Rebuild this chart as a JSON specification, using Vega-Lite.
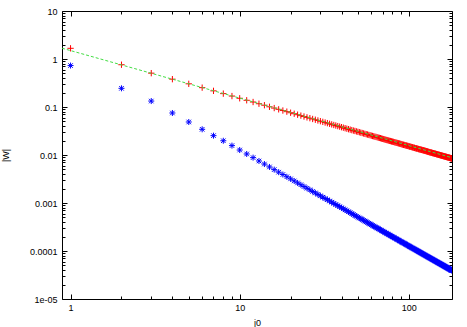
{
"$schema": "https://vega.github.io/schema/vega-lite/v6.json",
"width": 390, "height": 288,
"autosize": "none",
"padding": {"left": 62, "top": 11, "right": 15, "bottom": 28},
"background": "white",
"config": {
  "view": {"stroke": "black", "strokeWidth": 1},
  "axis": {"domain": false, "grid": false, "tickColor": "black", "tickWidth": 1, "labelFont": "Liberation Sans", "labelFontSize": 9, "labelColor": "black", "titleFont": "Liberation Sans", "titleFontSize": 9, "titleFontWeight": "normal", "titleColor": "black"}
},
"datasets": {
"fit": [{"j": 0.89, "w": 1.68}, {"j": 180, "w": 0.00877}],
"pts": [
{"j":1,"r":1.67,"b":0.73},{"j":2,"r":0.76,"b":0.245},{"j":3,"r":0.507,"b":0.133},{"j":4,"r":0.38,"b":0.075},{"j":5,"r":0.304,"b":0.0487},{"j":6,"r":0.253,"b":0.0343},{"j":7,"r":0.217,"b":0.0253},{"j":8,"r":0.19,"b":0.0198},{"j":9,"r":0.169,"b":0.0157},{"j":10,"r":0.152,"b":0.0127},
{"j":11,"r":0.138,"b":0.0105},{"j":12,"r":0.127,"b":0.00882},{"j":13,"r":0.117,"b":0.00751},{"j":14,"r":0.109,"b":0.00648},{"j":15,"r":0.101,"b":0.00564},{"j":16,"r":0.095,"b":0.00496},{"j":17,"r":0.0894,"b":0.00439},{"j":18,"r":0.0844,"b":0.00392},{"j":19,"r":0.08,"b":0.00352},{"j":20,"r":0.076,"b":0.00318},
{"j":21,"r":0.0724,"b":0.00288},{"j":22,"r":0.0691,"b":0.00262},{"j":23,"r":0.0661,"b":0.0024},{"j":24,"r":0.0633,"b":0.0022},{"j":25,"r":0.0608,"b":0.00203},{"j":26,"r":0.0585,"b":0.00188},{"j":27,"r":0.0563,"b":0.00174},{"j":28,"r":0.0543,"b":0.00162},{"j":29,"r":0.0524,"b":0.00151},{"j":30,"r":0.0507,"b":0.00141},
{"j":31,"r":0.049,"b":0.00132},{"j":32,"r":0.0475,"b":0.00124},{"j":33,"r":0.0461,"b":0.00117},{"j":34,"r":0.0447,"b":0.0011},{"j":35,"r":0.0434,"b":0.00104},{"j":36,"r":0.0422,"b":0.00098},{"j":37,"r":0.0411,"b":0.000928},{"j":38,"r":0.04,"b":0.00088},{"j":39,"r":0.039,"b":0.000835},{"j":40,"r":0.038,"b":0.000794},
{"j":41,"r":0.0371,"b":0.000755},{"j":42,"r":0.0362,"b":0.00072},{"j":43,"r":0.0353,"b":0.000687},{"j":44,"r":0.0345,"b":0.000656},{"j":45,"r":0.0338,"b":0.000627},{"j":46,"r":0.033,"b":0.0006},{"j":47,"r":0.0323,"b":0.000575},{"j":48,"r":0.0317,"b":0.000551},{"j":49,"r":0.031,"b":0.000529},{"j":50,"r":0.0304,"b":0.000508},
{"j":51,"r":0.0298,"b":0.000488},{"j":52,"r":0.0292,"b":0.00047},{"j":53,"r":0.0287,"b":0.000452},{"j":54,"r":0.0281,"b":0.000436},{"j":55,"r":0.0276,"b":0.00042},{"j":56,"r":0.0271,"b":0.000405},{"j":57,"r":0.0267,"b":0.000391},{"j":58,"r":0.0262,"b":0.000378},{"j":59,"r":0.0258,"b":0.000365},{"j":60,"r":0.0253,"b":0.000353},
{"j":61,"r":0.0249,"b":0.000341},{"j":62,"r":0.0245,"b":0.00033},{"j":63,"r":0.0241,"b":0.00032},{"j":64,"r":0.0238,"b":0.00031},{"j":65,"r":0.0234,"b":0.000301},{"j":66,"r":0.023,"b":0.000292},{"j":67,"r":0.0227,"b":0.000283},{"j":68,"r":0.0224,"b":0.000275},{"j":69,"r":0.022,"b":0.000267},{"j":70,"r":0.0217,"b":0.000259},
{"j":71,"r":0.0214,"b":0.000252},{"j":72,"r":0.0211,"b":0.000245},{"j":73,"r":0.0208,"b":0.000238},{"j":74,"r":0.0205,"b":0.000232},{"j":75,"r":0.0203,"b":0.000226},{"j":76,"r":0.02,"b":0.00022},{"j":77,"r":0.0197,"b":0.000214},{"j":78,"r":0.0195,"b":0.000209},{"j":79,"r":0.0192,"b":0.000203},{"j":80,"r":0.019,"b":0.000198},
{"j":81,"r":0.0188,"b":0.000194},{"j":82,"r":0.0185,"b":0.000189},{"j":83,"r":0.0183,"b":0.000184},{"j":84,"r":0.0181,"b":0.00018},{"j":85,"r":0.0179,"b":0.000176},{"j":86,"r":0.0177,"b":0.000172},{"j":87,"r":0.0175,"b":0.000168},{"j":88,"r":0.0173,"b":0.000164},{"j":89,"r":0.0171,"b":0.00016},{"j":90,"r":0.0169,"b":0.000157},
{"j":91,"r":0.0167,"b":0.000153},{"j":92,"r":0.0165,"b":0.00015},{"j":93,"r":0.0163,"b":0.000147},{"j":94,"r":0.0162,"b":0.000144},{"j":95,"r":0.016,"b":0.000141},{"j":96,"r":0.0158,"b":0.000138},{"j":97,"r":0.0157,"b":0.000135},{"j":98,"r":0.0155,"b":0.000132},{"j":99,"r":0.0154,"b":0.00013},{"j":100,"r":0.0152,"b":0.000127},
{"j":101,"r":0.015,"b":0.000124},{"j":102,"r":0.0149,"b":0.000122},{"j":103,"r":0.0148,"b":0.00012},{"j":104,"r":0.0146,"b":0.000117},{"j":105,"r":0.0145,"b":0.000115},{"j":106,"r":0.0143,"b":0.000113},{"j":107,"r":0.0142,"b":0.000111},{"j":108,"r":0.0141,"b":0.000109},{"j":109,"r":0.0139,"b":0.000107},{"j":110,"r":0.0138,"b":0.000105},
{"j":111,"r":0.0137,"b":0.000103},{"j":112,"r":0.0136,"b":0.000101},{"j":113,"r":0.0135,"b":0.0000995},{"j":114,"r":0.0133,"b":0.0000977},{"j":115,"r":0.0132,"b":0.000096},{"j":116,"r":0.0131,"b":0.0000944},{"j":117,"r":0.013,"b":0.0000928},{"j":118,"r":0.0129,"b":0.0000912},{"j":119,"r":0.0128,"b":0.0000897},{"j":120,"r":0.0127,"b":0.0000882},
{"j":121,"r":0.0126,"b":0.0000867},{"j":122,"r":0.0125,"b":0.0000853},{"j":123,"r":0.0124,"b":0.0000839},{"j":124,"r":0.0123,"b":0.0000826},{"j":125,"r":0.0122,"b":0.0000813},{"j":126,"r":0.0121,"b":0.00008},{"j":127,"r":0.012,"b":0.0000787},{"j":128,"r":0.0119,"b":0.0000775},{"j":129,"r":0.0118,"b":0.0000763},{"j":130,"r":0.0117,"b":0.0000751},
{"j":131,"r":0.0116,"b":0.000074},{"j":132,"r":0.0115,"b":0.0000729},{"j":133,"r":0.0114,"b":0.0000718},{"j":134,"r":0.0113,"b":0.0000707},{"j":135,"r":0.0113,"b":0.0000697},{"j":136,"r":0.0112,"b":0.0000687},{"j":137,"r":0.0111,"b":0.0000677},{"j":138,"r":0.011,"b":0.0000667},{"j":139,"r":0.0109,"b":0.0000657},{"j":140,"r":0.0109,"b":0.0000648},
{"j":141,"r":0.0108,"b":0.0000639},{"j":142,"r":0.0107,"b":0.000063},{"j":143,"r":0.0106,"b":0.0000621},{"j":144,"r":0.0106,"b":0.0000612},{"j":145,"r":0.0105,"b":0.0000604},{"j":146,"r":0.0104,"b":0.0000596},{"j":147,"r":0.0103,"b":0.0000588},{"j":148,"r":0.0103,"b":0.000058},{"j":149,"r":0.0102,"b":0.0000572},{"j":150,"r":0.0101,"b":0.0000564},
{"j":151,"r":0.0101,"b":0.0000557},{"j":152,"r":0.01,"b":0.000055},{"j":153,"r":0.00993,"b":0.0000543},{"j":154,"r":0.00987,"b":0.0000536},{"j":155,"r":0.00981,"b":0.0000529},{"j":156,"r":0.00974,"b":0.0000522},{"j":157,"r":0.00968,"b":0.0000515},{"j":158,"r":0.00962,"b":0.0000509},{"j":159,"r":0.00956,"b":0.0000502},{"j":160,"r":0.0095,"b":0.0000496},
{"j":161,"r":0.00944,"b":0.000049},{"j":162,"r":0.00938,"b":0.0000484},{"j":163,"r":0.00933,"b":0.0000478},{"j":164,"r":0.00927,"b":0.0000472},{"j":165,"r":0.00921,"b":0.0000466},{"j":166,"r":0.00916,"b":0.0000461},{"j":167,"r":0.0091,"b":0.0000455},{"j":168,"r":0.00905,"b":0.000045},{"j":169,"r":0.00899,"b":0.0000445},{"j":170,"r":0.00894,"b":0.0000439},
{"j":171,"r":0.00889,"b":0.0000434},{"j":172,"r":0.00884,"b":0.0000429},{"j":173,"r":0.00879,"b":0.0000424},{"j":174,"r":0.00874,"b":0.0000419},{"j":175,"r":0.00869,"b":0.0000415},{"j":176,"r":0.00864,"b":0.000041},{"j":177,"r":0.00859,"b":0.0000405},{"j":178,"r":0.00854,"b":0.0000401},{"j":179,"r":0.00849,"b":0.0000396},{"j":180,"r":0.00844,"b":0.0000392}
]
},
"resolve": {"axis": {"x": "independent", "y": "independent"}},
"layer": [
{
  "data": {"name": "pts"},
  "mark": {"type": "point", "shape": "M-1,0H1M0,-1V1M-0.75,-0.75L0.75,0.75M-0.75,0.75L0.75,-0.75", "filled": false, "stroke": "#0000ff", "strokeWidth": 1, "size": 36, "opacity": 1, "clip": true},
  "encoding": {
    "x": {"field": "j", "type": "quantitative", "scale": {"type": "log", "domain": [0.89, 180], "nice": false},
          "axis": {"orient": "top", "values": [1, 10, 100], "labels": false, "title": null, "tickSize": -5}},
    "y": {"field": "b", "type": "quantitative", "scale": {"type": "log", "domain": [0.00001, 10], "nice": false},
          "axis": {"orient": "right", "values": [0.00001, 0.0001, 0.001, 0.01, 0.1, 1, 10], "labels": false, "title": null, "tickSize": -5}}
  }
},
{
  "data": {"name": "pts"},
  "mark": {"type": "point", "shape": "M-1,0H1M0,-1V1", "filled": false, "stroke": "#ff0000", "strokeWidth": 1, "size": 40, "opacity": 1, "clip": true},
  "encoding": {
    "x": {"field": "j", "type": "quantitative", "scale": {"type": "log", "domain": [0.89, 180], "nice": false},
          "axis": {"orient": "bottom", "values": [2, 3, 4, 5, 6, 7, 8, 9, 20, 30, 40, 50, 60, 70, 80, 90], "labels": false, "title": null, "tickSize": -3}},
    "y": {"field": "r", "type": "quantitative", "scale": {"type": "log", "domain": [0.00001, 10], "nice": false},
          "axis": {"orient": "left", "values": [0.00002,0.00003,0.00004,0.00005,0.00006,0.00007,0.00008,0.00009,0.0002,0.0003,0.0004,0.0005,0.0006,0.0007,0.0008,0.0009,0.002,0.003,0.004,0.005,0.006,0.007,0.008,0.009,0.02,0.03,0.04,0.05,0.06,0.07,0.08,0.09,0.2,0.3,0.4,0.5,0.6,0.7,0.8,0.9,2,3,4,5,6,7,8,9], "labels": false, "title": null, "tickSize": -3}}
  }
},
{
  "data": {"name": "fit"},
  "mark": {"type": "line", "stroke": "#44dd44", "strokeWidth": 1, "strokeDash": [3, 2], "clip": true},
  "encoding": {
    "x": {"field": "j", "type": "quantitative", "scale": {"type": "log", "domain": [0.89, 180], "nice": false},
          "axis": {"orient": "bottom", "values": [1, 10, 100], "format": "d", "title": "j0", "tickSize": -5, "labelPadding": 9, "titleY": 19, "titleBaseline": "top"}},
    "y": {"field": "w", "type": "quantitative", "scale": {"type": "log", "domain": [0.00001, 10], "nice": false},
          "axis": {"orient": "left", "values": [0.00001, 0.0001, 0.001, 0.01, 0.1, 1, 10], "labelExpr": "datum.value < 0.00005 ? '1e-05' : (datum.value >= 1 ? format(datum.value, 'd') : format(datum.value, '~g'))", "title": "|W|", "titleX": -52, "titleY": 144, "tickSize": -5, "labelPadding": 10}}
  }
},
{
  "data": {"name": "fit"},
  "mark": {"type": "line", "strokeOpacity": 0, "clip": true},
  "encoding": {
    "x": {"field": "j", "type": "quantitative", "scale": {"type": "log", "domain": [0.89, 180], "nice": false},
          "axis": {"orient": "top", "values": [2, 3, 4, 5, 6, 7, 8, 9, 20, 30, 40, 50, 60, 70, 80, 90], "labels": false, "title": null, "tickSize": -3}},
    "y": {"field": "w", "type": "quantitative", "scale": {"type": "log", "domain": [0.00001, 10], "nice": false},
          "axis": {"orient": "right", "values": [0.00002,0.00003,0.00004,0.00005,0.00006,0.00007,0.00008,0.00009,0.0002,0.0003,0.0004,0.0005,0.0006,0.0007,0.0008,0.0009,0.002,0.003,0.004,0.005,0.006,0.007,0.008,0.009,0.02,0.03,0.04,0.05,0.06,0.07,0.08,0.09,0.2,0.3,0.4,0.5,0.6,0.7,0.8,0.9,2,3,4,5,6,7,8,9], "labels": false, "title": null, "tickSize": -3}}
  }
}
]
}
